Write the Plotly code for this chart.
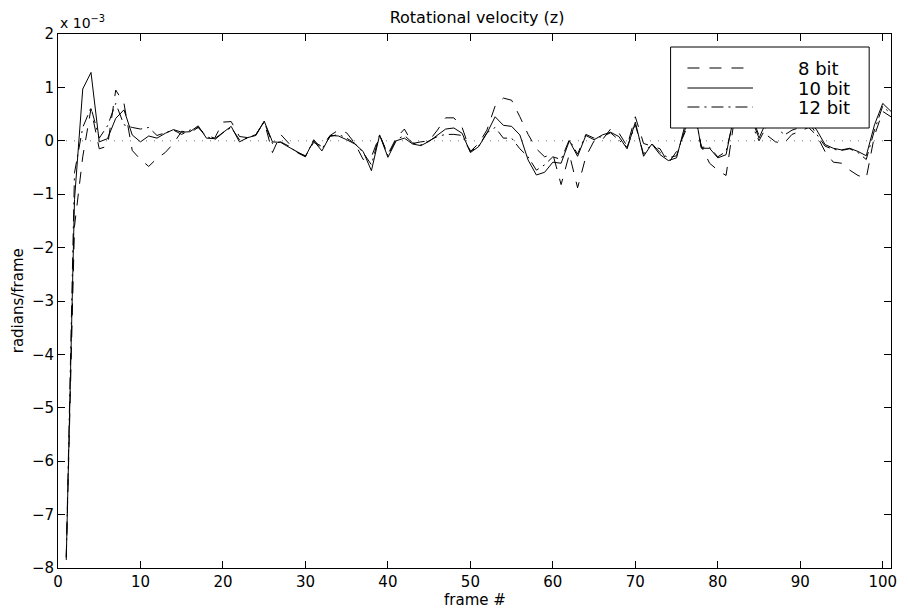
import plotly.graph_objects as go

# values in units of 1e-3 radians/frame, frames 1..101
frames = list(range(1, 102))

bit8 = [-7.8, -1.6, -0.3, 0.6, -0.15, -0.1, 0.95, 0.7, -0.18, -0.35,
        -0.48, -0.33, -0.22, -0.05, 0.18, 0.15, 0.25, 0.1, 0.05, 0.35,
        0.36, 0.08, 0.06, 0.12, 0.36, -0.22, 0.12, -0.05, -0.22, -0.28,
        -0.03, -0.1, 0.1, 0.2, 0.15, -0.05, -0.35, -0.3, 0.1, -0.25,
        0.05, 0.22, -0.05, -0.02, 0.0, 0.2, 0.43, 0.43, 0.25, -0.2,
        -0.05, 0.2, 0.65, 0.8, 0.76, 0.45, 0.12, -0.15, -0.3, -0.25,
        -0.82, -0.25, -0.88, -0.3, 0.0, 0.02, 0.22, 0.15, -0.1, 0.45,
        -0.05, -0.1, -0.15, -0.42, -0.2, 0.15, 0.6, -0.1, -0.42, -0.55,
        -0.65, 0.4, 0.5, 0.5, 0.1, 0.1, -0.02, -0.05, 0.12, 0.18,
        0.25, 0.1, -0.2, -0.4, -0.42, -0.55, -0.65, -0.7, 0.1, 0.55,
        0.45]

bit10 = [-7.85, -1.1, 0.97, 1.28, -0.02, 0.04, 0.42, 0.58, 0.11, -0.02,
         0.09, 0.05, 0.14, 0.21, 0.16, 0.17, 0.28, 0.05, 0.04, 0.16,
         0.27, -0.02, 0.06, 0.10, 0.37, -0.02, -0.03, -0.12, -0.21, -0.29,
         0.0, -0.19, 0.10, 0.09, 0.02, -0.06, -0.2, -0.56, 0.11, -0.31,
         0.0, 0.05, -0.06, -0.09, -0.01, 0.11, 0.22, 0.24, 0.14, -0.22,
         -0.11, 0.14, 0.45, 0.29, 0.27, 0.11, -0.36, -0.64, -0.59, -0.4,
         -0.42, 0.0, -0.29, 0.10, 0.02, 0.11, 0.16, 0.08, -0.15, 0.35,
         -0.29, -0.06, -0.26, -0.37, -0.32, 0.28, 0.75, -0.14, -0.14, -0.32,
         -0.26, 0.5, 0.7, 0.45, 0.05, 0.4, 0.5, 0.35, 0.45, 0.5,
         0.4, 0.2, -0.07, -0.14, -0.17, -0.14, -0.2, -0.28, 0.3, 0.70,
         0.55]

bit12 = [-7.8, -0.6, 0.25, 0.62, 0.05, 0.28, 0.7, 0.3, 0.25, 0.22,
         0.25, 0.1, 0.15, 0.2, 0.12, 0.2, 0.25, 0.08, 0.02, 0.15,
         0.25, 0.02, 0.05, 0.12, 0.35, -0.05, -0.02, -0.1, -0.22, -0.3,
         0.02, -0.15, 0.08, 0.12, 0.05, -0.05, -0.22, -0.45, 0.12, -0.28,
         0.02, 0.1, -0.04, -0.08, 0.0, 0.08, 0.12, 0.12, 0.1, -0.2,
         -0.1, 0.15, 0.25, 0.05, 0.05, -0.15, -0.3, -0.55, -0.45, -0.3,
         -0.35, 0.02, -0.25, 0.12, 0.05, 0.08, 0.15, 0.02, -0.12, 0.3,
         -0.25, -0.05, -0.22, -0.32, -0.28, 0.2, 0.7, -0.12, -0.12, -0.3,
         -0.2, 0.45, 0.6, 0.35, 0.0, 0.3, 0.35, 0.1, 0.2, 0.25,
         0.35, 0.12, -0.1, -0.16, -0.18, -0.15, -0.22, -0.35, 0.2, 0.65,
         0.5]

series_names = ["8 bit", "10 bit", "12 bit"]
series_dash = ["12px,10px", "solid", "12px,5px,2px,5px"]
xticks = list(range(0, 101, 10))
yticks = list(range(-8, 3))

FONT = "DejaVu Sans, Liberation Sans, Arial, sans-serif"

fig = go.Figure()
for name, ys, dash in zip(series_names, [bit8, bit10, bit12], series_dash):
    fig.add_trace(go.Scatter(x=frames, y=ys, mode="lines", name=name,
                             line=dict(color="black", width=1, dash=dash),
                             showlegend=False))

# dotted zero reference line
fig.add_hline(y=0, line=dict(color="#777777", width=1, dash="1px,7px"), layer="below")

# plot-area geometry (px) for paper conversions
L, R, T, B = 58, 897, 34, 568
W, H = R - L, B - T
def px(x):
    return (x - L) / W
def py(y):
    return (B - y) / H

# legend box
fig.add_shape(type="rect", xref="paper", yref="paper",
              x0=px(675), x1=px(875), y0=py(128), y1=py(47),
              line=dict(color="black", width=1), fillcolor="white", layer="above")
for i, (name, dash) in enumerate(zip(series_names, series_dash)):
    yy = [68, 88, 107][i]
    fig.add_shape(type="line", xref="paper", yref="paper",
                  x0=px(692), x1=px(758), y0=py(yy), y1=py(yy),
                  line=dict(color="black", width=1, dash=dash), layer="above")
    fig.add_annotation(xref="paper", yref="paper", x=px(801), y=py(yy),
                       text=name, showarrow=False, xanchor="left", yanchor="middle",
                       font=dict(family=FONT, size=18, color="black"))

# exponent label
fig.add_annotation(xref="paper", yref="paper", x=0, y=py(22),
                   text="x 10<sup>−3</sup>", showarrow=False,
                   xanchor="left", yanchor="middle",
                   font=dict(family=FONT, size=14, color="black"))
# axis titles
fig.add_annotation(xref="paper", yref="paper", x=px(18), y=0.5,
                   text="radians/frame", textangle=-90, showarrow=False,
                   xanchor="center", yanchor="middle",
                   font=dict(family=FONT, size=15, color="black"))
fig.add_annotation(xref="paper", yref="paper", x=0.5, y=py(600),
                   text="frame #", showarrow=False,
                   xanchor="center", yanchor="middle",
                   font=dict(family=FONT, size=15, color="black"))

axis_common = dict(showgrid=False, zeroline=False, showline=True, linecolor="black",
                   linewidth=1, mirror="ticks", ticks="inside", ticklen=7,
                   tickcolor="black", tickwidth=1,
                   tickfont=dict(family=FONT, size=15, color="black"))

fig.update_layout(
    width=908, height=611,
    margin=dict(l=L, r=908 - R, t=T, b=611 - B),
    paper_bgcolor="white", plot_bgcolor="white",
    title=dict(text="Rotational velocity (z)", x=477 / 908,
               xanchor="center", y=1 - 17 / 611, yanchor="middle",
               font=dict(family=FONT, size=16, color="black")),
    xaxis=dict(range=[0, 101], tickvals=xticks, **axis_common),
    yaxis=dict(range=[-8, 2], tickvals=yticks, **axis_common),
    font=dict(family=FONT),
)

fig.write_html("out.html", config={"displayModeBar": False},
               post_script="document.body.style.margin='0px';document.body.style.padding='0px';")
